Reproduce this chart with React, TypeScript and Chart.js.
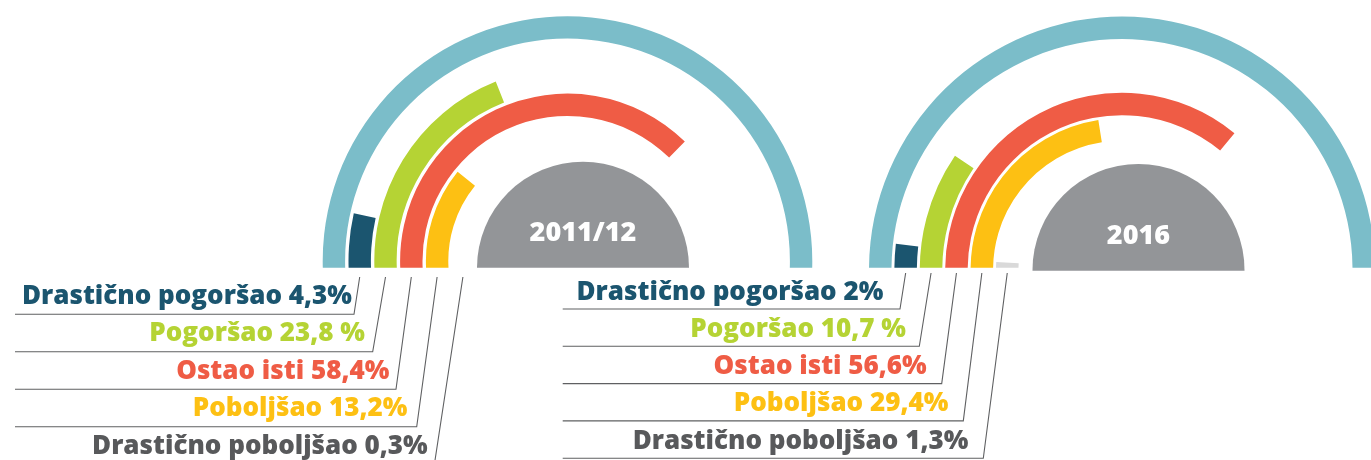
import { useEffect, useRef } from 'react';
import { Chart, registerables } from 'chart.js';

Chart.register(...registerables);

// ---------- data ----------
const categories = ['Drastično pogoršao', 'Pogoršao', 'Ostao isti', 'Poboljšao', 'Drastično poboljšao'];
const periods = ['2011/12', '2016'];
const percentLabels2011 = ['4,3%', '23,8 %', '58,4%', '13,2%', '0,3%'];
const percentLabels2016 = ['2%', '10,7 %', '56,6%', '29,4%', '1,3%'];
// arc sweep of each ring as drawn in the picture (degrees from the left horizontal, semicircle = 180)
const arcDeg2011 = [12.6, 68.2, 134.5, 39.1, -4.5];
const arcDeg2016 = [6.5, 34.3, 129.5, 81, 3.5];
const fullArcDeg = 180;

// ---------- styles ----------
const OUTER_COLOR = '#7bbdc9';
const RING_COLORS = ['#1b556f', '#b5d334', '#ef5c45', '#fdc013', '#d9d9d9'];
const LABEL_COLORS = ['#1b556f', '#b5d334', '#ef5c45', '#fdc013', '#58595b'];
const DISC_COLOR = '#939598';
const LINE_COLOR = '#5f6062';
const LABEL_FONT = '800 26px "Open Sans"';
const DISC_FONT = '800 27px "Open Sans"';
const START_BELOW = 5; // rings start slightly below the horizontal and are clipped flat
const W = 1371;
const H = 460;
const TRANSPARENT = 'rgba(0,0,0,0)';

type Layout = {
  cx: number; cy: number; R: number; t: number; g: number; cutY: number;
  discCx: number; discCy: number; discR: number; discCutY: number; discTextY: number;
  lineLeft: number; underlineY0: number; rowStep: number; baselineOffset: number;
  leaderTopY: number; leaderBottomX: number[]; textRight: number[];
};

const layout2011: Layout = {
  cx: 567.5, cy: 261, R: 244.8, t: 22.4, g: 3.4, cutY: 267.7,
  discCx: 583, discCy: 267.7, discR: 106, discCutY: 267.7, discTextY: 241,
  lineLeft: 15, underlineY0: 314.3, rowStep: 37.5, baselineOffset: 10.5,
  leaderTopY: 277, leaderBottomX: [354, 372.7, 396, 416.7, 434.4],
  textRight: [352, 365, 389.3, 407.3, 427.7],
};

const layout2016: Layout = {
  cx: 1122, cy: 269.6, R: 253, t: 22.5, g: 2.9, cutY: 267.7,
  discCx: 1138.5, discCy: 270, discR: 106, discCutY: 270.7, discTextY: 243.5,
  lineLeft: 562.7, underlineY0: 309, rowStep: 37.3, baselineOffset: 9.5,
  leaderTopY: 273, leaderBottomX: [900, 919.3, 941.7, 963.3, 983.3],
  textRight: [883.3, 906, 926.7, 948.3, 968.3],
};

function buildConfig(arcs: number[], percents: string[], period: string, L: Layout): any {
  const clip = { left: false, right: false, top: false, bottom: L.cutY - H };
  const outerSweep = fullArcDeg + 2 * START_BELOW;
  const datasets: any[] = [
    { data: [outerSweep, 360 - outerSweep], backgroundColor: [OUTER_COLOR, TRANSPARENT], weight: L.t, clip },
  ];
  arcs.forEach((a, i) => {
    datasets.push({ data: [360], backgroundColor: [TRANSPARENT], weight: L.g, clip });
    const v = START_BELOW + a;
    datasets.push({ data: [v, 360 - v], backgroundColor: [RING_COLORS[i], TRANSPARENT], weight: L.t, clip });
  });
  const totalWeight = 6 * L.t + 5 * L.g;
  const inner = L.R - totalWeight;

  const overlay = {
    id: 'overlay',
    afterDatasetsDraw(chart: any) {
      const ctx = chart.ctx as CanvasRenderingContext2D;
      // center half-disc
      ctx.save();
      ctx.beginPath();
      ctx.rect(0, 0, W, L.discCutY);
      ctx.clip();
      ctx.beginPath();
      ctx.arc(L.discCx, L.discCy, L.discR, 0, Math.PI * 2);
      ctx.fillStyle = DISC_COLOR;
      ctx.fill();
      ctx.restore();

      ctx.save();
      ctx.fillStyle = '#ffffff';
      ctx.font = DISC_FONT;
      ctx.textAlign = 'center';
      ctx.textBaseline = 'alphabetic';
      ctx.fillText(period, L.discCx, L.discTextY);
      ctx.restore();

      // labels, underlines and leader lines
      ctx.save();
      ctx.strokeStyle = LINE_COLOR;
      ctx.lineWidth = 1.1;
      categories.forEach((cat, i) => {
        const meta = chart.getDatasetMeta(2 + i * 2);
        const arc = meta.data[0] as any;
        const midR = (arc.outerRadius + arc.innerRadius) / 2;
        const topX = arc.x - midR;
        const uy = L.underlineY0 + i * L.rowStep;
        ctx.beginPath();
        ctx.moveTo(L.lineLeft, uy);
        ctx.lineTo(L.leaderBottomX[i], uy);
        ctx.lineTo(topX, L.leaderTopY);
        ctx.stroke();

        ctx.fillStyle = LABEL_COLORS[i];
        ctx.font = LABEL_FONT;
        ctx.textAlign = 'right';
        ctx.textBaseline = 'alphabetic';
        ctx.fillText(`${cat} ${percents[i]}`, L.textRight[i], uy - L.baselineOffset);
      });
      ctx.restore();
    },
  };

  return {
    type: 'doughnut',
    data: { labels: ['arc', 'rest'], datasets },
    options: {
      responsive: false,
      animation: false,
      events: [],
      rotation: -90 - START_BELOW,
      circumference: 360,
      radius: L.R,
      cutout: `${(inner / L.R) * 100}%`,
      layout: {
        padding: {
          left: Math.max(0, 2 * L.cx - W),
          right: Math.max(0, W - 2 * L.cx),
          top: Math.max(0, 2 * L.cy - H),
          bottom: Math.max(0, H - 2 * L.cy),
        },
      },
      elements: { arc: { borderWidth: 0 } },
      plugins: { legend: { display: false }, tooltip: { enabled: false }, title: { display: false } },
    },
    plugins: [overlay],
  };
}

function DoughnutLayer({ arcs, percents, period, L }: { arcs: number[]; percents: string[]; period: string; L: Layout }) {
  const ref = useRef<HTMLCanvasElement | null>(null);
  useEffect(() => {
    if (!ref.current) return;
    const chart = new Chart(ref.current, buildConfig(arcs, percents, period, L));
    return () => chart.destroy();
  }, []);
  return <canvas ref={ref} width={W} height={H} style={{ position: 'absolute', left: 0, top: 0, width: W, height: H }} />;
}

export default function App() {
  return (
    <div style={{ position: 'fixed', left: 0, top: 0, width: W, height: H, overflow: 'hidden', background: '#ffffff' }}>
      <DoughnutLayer arcs={arcDeg2011} percents={percentLabels2011} period={periods[0]} L={layout2011} />
      <DoughnutLayer arcs={arcDeg2016} percents={percentLabels2016} period={periods[1]} L={layout2016} />
    </div>
  );
}
